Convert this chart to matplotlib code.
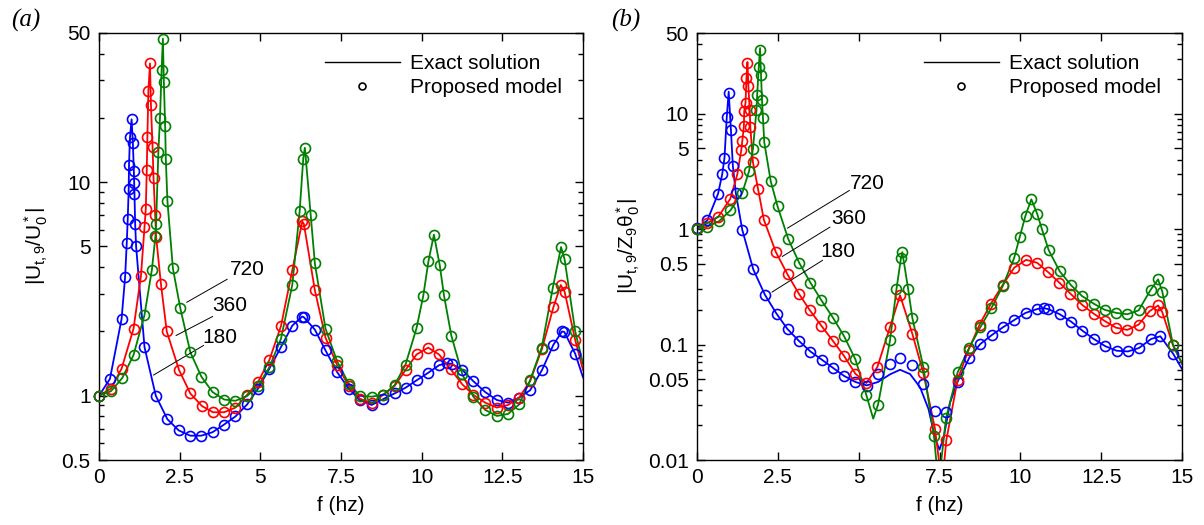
import numpy as np
import matplotlib
matplotlib.use('Agg')
import matplotlib.pyplot as plt
from matplotlib.lines import Line2D
from matplotlib.ticker import FixedLocator, NullFormatter, LogLocator

plt.rcParams['font.family'] = ['Liberation Sans', 'DejaVu Sans']
plt.rcParams['mathtext.fontset'] = 'custom'
plt.rcParams['mathtext.rm'] = 'Liberation Sans'
plt.rcParams['mathtext.it'] = 'Liberation Sans:italic'

# ---------------- panel (a): |U_t,9 / U_0*| ----------------
# model points (exact solution is drawn through the same points, plus end at 15 Hz)
fa_180 = [0, 0.34, 0.70, 0.81, 0.86, 0.89, 0.92, 0.93, 0.96, 1.01, 1.05, 1.08, 1.09, 1.10, 1.12, 1.15,
          1.41, 1.76, 2.12, 2.47, 2.83, 3.17, 3.52, 3.86, 4.23, 4.59, 4.93, 5.28, 5.64, 5.99, 6.30, 6.35,
          6.69, 7.02, 7.38, 7.74, 8.08, 8.45, 8.81, 9.16, 9.50, 9.84, 10.20, 10.54, 10.78, 10.93, 11.26,
          11.60, 11.97, 12.33, 12.68, 13.02, 13.36, 13.73, 14.08, 14.35, 14.42, 14.76, 15.0]
ya_180 = [1.0, 1.20, 2.29, 3.61, 5.2, 6.7, 9.3, 12.0, 16.2, 19.7, 15.2, 11.3, 9.96, 8.8, 6.4, 5.0,
          1.69, 1.0, 0.776, 0.688, 0.65, 0.65, 0.675, 0.73, 0.80, 0.91, 1.08, 1.34, 1.69, 2.13, 2.35, 2.33,
          2.04, 1.63, 1.29, 1.08, 0.955, 0.905, 0.965, 1.025, 1.09, 1.18, 1.28, 1.39, 1.42, 1.41, 1.32,
          1.17, 1.04, 0.955, 0.928, 0.98, 1.06, 1.32, 1.73, 2.0, 1.99, 1.57, 1.22]

fa_360 = [0, 0.37, 0.70, 1.07, 1.30, 1.41, 1.45, 1.48, 1.50, 1.53, 1.58, 1.61, 1.66, 1.69, 1.74, 1.77,
          1.92, 2.10, 2.48, 2.83, 3.19, 3.53, 3.88, 4.23, 4.59, 4.93, 5.28, 5.64, 5.99, 6.30, 6.35, 6.69,
          7.02, 7.38, 7.74, 8.08, 8.45, 8.81, 9.16, 9.50, 9.84, 10.20, 10.54, 10.90, 11.26, 11.60, 11.97,
          12.33, 12.68, 13.02, 13.36, 13.73, 14.08, 14.31, 14.43, 14.76, 15.0]
ya_360 = [1.0, 1.08, 1.34, 2.06, 3.64, 6.15, 7.5, 11.4, 16.3, 26.7, 36.0, 23.0, 14.6, 10.5, 7.05, 5.55,
          3.33, 2.0, 1.32, 1.025, 0.895, 0.837, 0.837, 0.88, 1.01, 1.16, 1.47, 2.12, 3.87, 6.55, 6.37, 3.12,
          1.87, 1.39, 1.11, 0.97, 0.92, 1.01, 1.11, 1.32, 1.56, 1.68, 1.56, 1.33, 1.13, 1.01, 0.928,
          0.88, 0.905, 0.98, 1.17, 1.66, 2.59, 3.3, 3.07, 1.82, 1.32]

fa_720 = [0, 0.37, 0.72, 1.07, 1.41, 1.64, 1.75, 1.77, 1.84, 1.89, 1.94, 1.98, 2.01, 2.05, 2.07, 2.12,
          2.29, 2.52, 2.83, 3.17, 3.52, 3.88, 4.23, 4.59, 4.93, 5.28, 5.64, 5.99, 6.22, 6.33, 6.38, 6.56,
          6.69, 7.02, 7.38, 7.74, 8.08, 8.45, 8.81, 9.16, 9.50, 9.84, 10.05, 10.21, 10.38, 10.56, 10.69,
          10.92, 11.26, 11.60, 11.97, 12.33, 12.68, 13.02, 13.36, 13.72, 14.06, 14.32, 14.43, 14.76, 15.0]
ya_720 = [1.0, 1.05, 1.21, 1.55, 2.39, 3.9, 5.6, 6.4, 13.9, 20.0, 33.6, 47.0, 29.6, 18.3, 12.9, 8.18,
          3.95, 2.57, 1.6, 1.23, 1.04, 0.96, 0.947, 0.997, 1.11, 1.36, 1.85, 3.3, 7.36, 12.9, 14.5, 7.05,
          4.17, 2.06, 1.45, 1.14, 1.0, 0.99, 1.01, 1.12, 1.40, 2.07, 2.94, 4.27, 5.68, 4.09, 2.96,
          1.91, 1.26, 0.99, 0.858, 0.804, 0.822, 0.91, 1.18, 1.68, 3.18, 4.97, 4.35, 2.0, 1.41]

# ---------------- panel (b): |U_t,9 / Z_9 theta_0*| ----------------
fb_180 = [0, 0.32, 0.65, 0.78, 0.85, 0.92, 0.98, 1.05, 1.11, 1.20, 1.40, 1.74, 2.10, 2.46, 2.80, 3.16,
          3.51, 3.86, 4.21, 4.55, 4.90, 5.25, 5.60, 5.97, 6.28, 6.66, 7.00, 7.36, 7.70, 8.06, 8.42, 8.76,
          9.12, 9.46, 9.81, 10.16, 10.52, 10.72, 10.86, 11.22, 11.57, 11.92, 12.27, 12.63, 12.98, 13.33,
          13.67, 14.05, 14.33, 14.73]
yb_180 = [1.02, 1.19, 2.02, 2.99, 4.14, 9.3, 15.0, 7.17, 3.49, 2.06, 0.986, 0.448, 0.27, 0.185, 0.136, 0.107,
          0.087, 0.074, 0.0627, 0.0535, 0.0474, 0.0434, 0.0558, 0.0683, 0.0768, 0.066, 0.0458, 0.0264, 0.0258,
          0.0477, 0.0768, 0.101, 0.121, 0.141, 0.163, 0.188, 0.203, 0.207, 0.203, 0.183, 0.158, 0.132, 0.112,
          0.0967, 0.0884, 0.0872, 0.0934, 0.112, 0.118, 0.083]
fb_180_exact = [0, 0.32, 0.65, 0.78, 0.85, 0.92, 0.98, 1.05, 1.11, 1.20, 1.40, 1.74, 2.10, 2.46, 2.80, 3.16,
                3.51, 3.86, 4.21, 4.55, 4.90, 5.25, 5.60, 5.97, 6.28, 6.59, 6.90, 7.16, 7.37, 7.50, 7.63,
                7.83, 8.06, 8.42, 8.76, 9.12, 9.46, 9.81, 10.16, 10.52, 10.72, 10.86, 11.22, 11.57, 11.92,
                12.27, 12.63, 12.98, 13.33, 13.67, 14.05, 14.33, 14.73, 15.0]
yb_180_exact = [1.02, 1.19, 2.02, 2.99, 4.14, 9.3, 15.5, 7.17, 3.49, 2.06, 0.986, 0.448, 0.27, 0.185, 0.136,
                0.107, 0.087, 0.074, 0.0627, 0.0535, 0.0474, 0.0443, 0.0474, 0.0552, 0.0605, 0.0555, 0.0426,
                0.0276, 0.0152, 0.0123, 0.0157, 0.0316, 0.0477, 0.0768, 0.101, 0.121, 0.141, 0.163, 0.188,
                0.203, 0.207, 0.203, 0.183, 0.158, 0.132, 0.112, 0.0967, 0.0884, 0.0872, 0.0934, 0.112,
                0.118, 0.083, 0.0614]

fb_360 = [0, 0.32, 0.65, 1.03, 1.25, 1.37, 1.40, 1.45, 1.46, 1.50, 1.53, 1.56, 1.59, 1.63, 1.65, 1.73,
          1.89, 2.07, 2.44, 2.80, 3.15, 3.49, 3.85, 4.21, 4.55, 4.90, 5.24, 5.58, 5.97, 6.28, 6.66, 7.00,
          7.36, 7.71, 8.06, 8.40, 8.74, 9.09, 9.46, 9.81, 10.18, 10.52, 10.86, 11.21, 11.55, 11.91, 12.27,
          12.61, 12.96, 13.31, 13.66, 14.00, 14.26, 14.39, 14.72]
yb_360 = [1.0, 1.13, 1.27, 1.83, 3.01, 4.86, 5.78, 7.76, 10.5, 12.4, 20.3, 27.4, 17.2, 10.7, 7.63, 3.8,
          2.21, 1.2, 0.632, 0.405, 0.276, 0.198, 0.145, 0.107, 0.0796, 0.0558, 0.0464, 0.0641, 0.142, 0.267,
          0.124, 0.0567, 0.0187, 0.0148, 0.0497, 0.09, 0.149, 0.226, 0.33, 0.463, 0.542, 0.511, 0.424,
          0.343, 0.276, 0.221, 0.185, 0.16, 0.14, 0.134, 0.149, 0.195, 0.218, 0.191, 0.0986]
fb_360_exact = [0, 0.32, 0.65, 1.03, 1.25, 1.37, 1.40, 1.45, 1.46, 1.50, 1.53, 1.56, 1.59, 1.63, 1.65, 1.73,
                1.89, 2.07, 2.44, 2.80, 3.15, 3.49, 3.85, 4.21, 4.55, 4.90, 5.24, 5.58, 5.97, 6.28, 6.66,
                7.00, 7.36, 7.58, 7.71, 8.06, 8.40, 8.74, 9.09, 9.46, 9.81, 10.18, 10.52, 10.86, 11.21,
                11.55, 11.91, 12.27, 12.61, 12.96, 13.31, 13.66, 14.00, 14.26, 14.39, 14.72, 15.0]
yb_360_exact = [1.0, 1.13, 1.27, 1.83, 3.01, 4.86, 5.78, 7.76, 10.5, 12.4, 20.3, 28.0, 17.2, 10.7, 7.63, 3.8,
                2.21, 1.2, 0.632, 0.405, 0.276, 0.198, 0.145, 0.107, 0.0796, 0.0558, 0.0464, 0.0641, 0.142,
                0.267, 0.124, 0.0567, 0.0187, 0.006, 0.0148, 0.0497, 0.09, 0.149, 0.226, 0.33, 0.463, 0.542,
                0.511, 0.424, 0.343, 0.276, 0.221, 0.185, 0.16, 0.14, 0.134, 0.149, 0.195, 0.218, 0.191,
                0.0986, 0.0684]

fb_720 = [0, 0.32, 0.68, 1.03, 1.40, 1.61, 1.73, 1.84, 1.86, 1.91, 1.95, 1.98, 2.01, 2.04, 2.08, 2.28,
          2.49, 2.82, 3.16, 3.51, 3.85, 4.21, 4.55, 4.90, 5.24, 5.60, 5.97, 6.17, 6.31, 6.35, 6.53, 6.66,
          7.00, 7.33, 7.70, 8.06, 8.42, 8.76, 9.10, 9.46, 9.81, 9.98, 10.16, 10.34, 10.52, 10.67, 10.88,
          11.22, 11.57, 11.91, 12.27, 12.61, 12.97, 13.31, 13.66, 14.03, 14.26, 14.39, 14.72]
yb_720 = [1.0, 1.05, 1.17, 1.45, 2.06, 3.18, 4.96, 10.7, 14.4, 25.3, 35.7, 21.8, 13.2, 9.2, 5.66, 2.6,
          1.58, 0.824, 0.511, 0.343, 0.241, 0.17, 0.118, 0.0743, 0.0363, 0.0302, 0.109, 0.304, 0.564, 0.632,
          0.304, 0.17, 0.0641, 0.0161, 0.0229, 0.0574, 0.0943, 0.141, 0.206, 0.323, 0.564, 0.853, 1.31, 1.81,
          1.36, 0.994, 0.654, 0.43, 0.326, 0.263, 0.226, 0.2, 0.188, 0.183, 0.198, 0.298, 0.367, 0.288, 0.1]
fb_720_exact = [0, 0.32, 0.68, 1.03, 1.40, 1.61, 1.73, 1.84, 1.86, 1.91, 1.95, 1.98, 2.01, 2.04, 2.08, 2.28,
                2.49, 2.82, 3.16, 3.51, 3.85, 4.21, 4.55, 4.90, 5.24, 5.45, 5.60, 5.97, 6.17, 6.31, 6.35,
                6.53, 6.66, 7.00, 7.33, 7.47, 7.70, 8.06, 8.42, 8.76, 9.10, 9.46, 9.81, 9.98, 10.16, 10.34,
                10.52, 10.67, 10.88, 11.22, 11.57, 11.91, 12.27, 12.61, 12.97, 13.31, 13.66, 14.03, 14.26,
                14.39, 14.72, 15.0]
yb_720_exact = [1.0, 1.05, 1.17, 1.45, 2.06, 3.18, 4.96, 10.7, 14.4, 25.3, 37.0, 21.8, 13.2, 9.2, 5.66, 2.6,
                1.58, 0.824, 0.511, 0.343, 0.241, 0.17, 0.118, 0.0743, 0.0363, 0.0228, 0.0302, 0.109, 0.304,
                0.564, 0.632, 0.304, 0.17, 0.0641, 0.0161, 0.006, 0.0229, 0.0574, 0.0943, 0.141, 0.206, 0.323,
                0.564, 0.853, 1.31, 1.81, 1.36, 0.994, 0.654, 0.43, 0.326, 0.263, 0.226, 0.2, 0.188, 0.183,
                0.198, 0.298, 0.367, 0.288, 0.1, 0.0684]

# labels (text position, leader start, leader end) in data coords
labels_a = [('720', (4.07, 3.91), (2.72, 2.74), (3.97, 3.51)),
            ('360', (3.52, 2.64), (2.39, 1.915), (3.52, 2.35)),
            ('180', (3.19, 1.87), (1.69, 1.25), (3.24, 1.72))]
labels_b = [('720', (4.73, 2.5), (2.80, 1.02), (4.71, 2.16)),
            ('360', (4.14, 1.23), (2.64, 0.58), (4.11, 1.04)),
            ('180', (3.83, 0.645), (2.32, 0.285), (3.88, 0.536))]

c_blue = '#0000ff'
c_red = '#ff0000'
c_green = '#008000'
fs = 15

fig = plt.figure(figsize=(12.04, 5.25), dpi=100)
axa = fig.add_axes([99/1204, 65/525, 484/1204, 427/525])
axb = fig.add_axes([697/1204, 65/525, 485/1204, 427/525])


def mk(ax, f, y, c):
    ax.plot(f, y, 'o', ms=7.2, mfc='none', mec=c, mew=1.2, clip_on=False, zorder=3)


def ln(ax, f, y, c):
    ax.plot(f, y, '-', color=c, lw=1.3, zorder=2)


# panel a: exact and model coincide, last point (15 Hz) is line only
for f, y, c in [(fa_180, ya_180, c_blue), (fa_360, ya_360, c_red), (fa_720, ya_720, c_green)]:
    ln(axa, f, y, c)
    mk(axa, f[:-1], y[:-1], c)

ln(axb, fb_180_exact, yb_180_exact, c_blue)
ln(axb, fb_360_exact, yb_360_exact, c_red)
ln(axb, fb_720_exact, yb_720_exact, c_green)
mk(axb, fb_180, yb_180, c_blue)
mk(axb, fb_360, yb_360, c_red)
mk(axb, fb_720, yb_720, c_green)

xt = [0, 2.5, 5, 7.5, 10, 12.5, 15]
xtl = ['0', '2.5', '5', '7.5', '10', '12.5', '15']

for ax, ylim, yt, labels in [(axa, (0.5, 50), [0.5, 1, 5, 10, 50], labels_a),
                             (axb, (0.01, 50), [0.01, 0.05, 0.1, 0.5, 1, 5, 10, 50], labels_b)]:
    ax.set_yscale('log')
    ax.set_xlim(0, 15)
    ax.set_ylim(*ylim)
    ax.set_xticks(xt)
    ax.set_xticklabels(xtl)
    ax.yaxis.set_major_locator(FixedLocator(yt))
    ax.set_yticklabels([('%g' % v) for v in yt])
    ax.yaxis.set_minor_locator(LogLocator(base=10, subs=np.arange(2, 10)))
    ax.yaxis.set_minor_formatter(NullFormatter())
    ax.tick_params(which='both', direction='in', top=True, right=True, labelsize=fs, width=1.0)
    ax.tick_params(which='major', length=6, pad=6)
    ax.tick_params(which='minor', length=3.5)
    for s in ax.spines.values():
        s.set_linewidth(1.0)
    ax.set_xlabel('f (hz)', fontsize=fs, labelpad=6)
    for txt, tp, p0, p1 in labels:
        ax.text(tp[0], tp[1], txt, fontsize=fs, ha='left', va='center')
        ax.plot([p0[0], p1[0]], [p0[1], p1[1]], '-', color='k', lw=0.7)
    hs = [Line2D([], [], color='k', lw=1.0),
          Line2D([], [], ls='none', marker='o', ms=5, mfc='none', mec='k', mew=1.2)]
    ax.legend(hs, ['Exact solution', 'Proposed model'], loc='upper right', frameon=False,
              fontsize=fs, handlelength=3.6, handletextpad=0.5, borderaxespad=0.6,
              labelspacing=0.25)

axa.set_ylabel(r'$|\mathrm{U}_{\mathrm{t,9}}/\mathrm{U}^*_0|$', fontsize=fs, labelpad=8)
axb.set_ylabel(r'$|\mathrm{U}_{\mathrm{t,9}}/\mathrm{Z}_9\mathrm{θ}^*_0|$', fontsize=fs, labelpad=4)

fig.text(26/1204, 1 - 20/525, '(a)', fontsize=18, family='Liberation Serif', style='italic',
         ha='center', va='center')
fig.text(626/1204, 1 - 20/525, '(b)', fontsize=18, family='Liberation Serif', style='italic',
         ha='center', va='center')

fig.savefig('out.png', dpi=100)
